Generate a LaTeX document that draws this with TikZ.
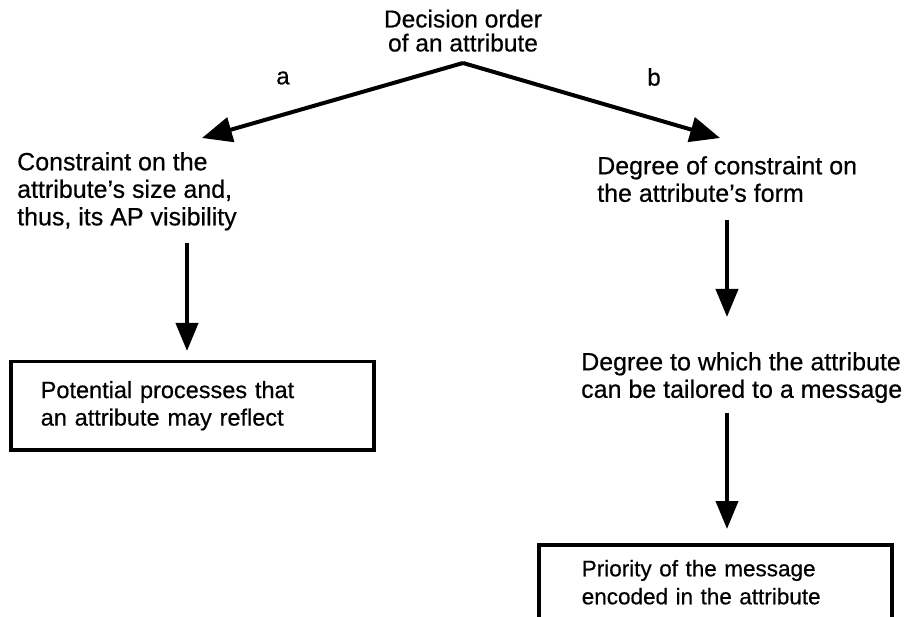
\documentclass[tikz,border=0pt]{standalone}
\usepackage{fontspec}
\setmainfont[FakeBold=0.5]{Liberation Sans}
\usetikzlibrary{arrows.meta}
\begin{document}
\begin{tikzpicture}[x=1pt,y=-1pt,
  txt/.style={inner sep=0pt, align=left, font=\fontsize{25}{27.5}\selectfont},
  lbl/.style={inner sep=0pt, font=\fontsize{24}{27.5}\selectfont},
  darr/.style={line width=4pt, -{Triangle[length=30pt,width=25pt]}},
  varr/.style={line width=4pt, -{Triangle[length=28pt,width=22pt]}},
  frame/.style={draw, line width=3.5pt, align=left, inner ysep=0pt,
    anchor=north west}]
\useasboundingbox (0,0) rectangle (913,617);
\clip (0,0) rectangle (913,617);

% root
\node[txt, align=center, anchor=north, font=\fontsize{24.5}{24}\selectfont]
  (title) at (463,9.5) {Decision order\\of an attribute};
\coordinate (apex) at (463,63);

% branch ends
\coordinate (tipA) at (202,138);
\coordinate (tipB) at (720,138);
\node[lbl] (la) at (283,78) {a};
\node[lbl] (lb) at (654,77) {b};

% left branch
\node[txt, anchor=north west] (cons) at (17,152)
  {Constraint on the\\attribute’s size and,\\thus, its AP visibility};
\node[frame, text width=303pt, inner xsep=30pt, minimum height=88pt,
  font=\fontsize{23.5}{27.5}\selectfont]
  (procs) at (9,360) {Potential processes that\\an attribute may reflect};

% right branch
\node[txt, anchor=north west] (deg1) at (597,156)
  {Degree of constraint on\\the attribute’s form};
\node[txt, anchor=north west] (deg2) at (581,352)
  {Degree to which the attribute\\can be tailored to a message};
\node[frame, text width=267pt, inner xsep=43pt, minimum height=75pt,
  font=\fontsize{22.5}{28}\selectfont]
  (prio) at (537,543) {Priority of the message\\encoded in the attribute};

% vertical guides for the down arrows
\coordinate (lx) at (187,0);
\coordinate (rx) at (727,0);

% connectors
\draw[darr] (apex) -- (tipA);
\draw[darr] (apex) -- (tipB);
\draw[varr, shorten <=12pt, shorten >=9pt] (cons.south -| lx) -- (procs.north -| lx);
\draw[varr, shorten <=18pt, shorten >=35pt] (deg1.south -| rx) -- (deg2.north -| rx);
\draw[varr, shorten <=10pt, shorten >=14pt] (deg2.south -| rx) -- (prio.north -| rx);
\end{tikzpicture}
\end{document}
